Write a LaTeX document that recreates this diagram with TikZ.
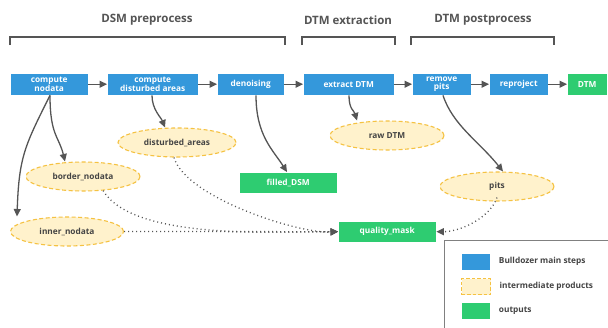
\documentclass[tikz,border=0pt]{standalone}
\usepackage{fontspec}
\setmainfont{Open Sans}
\usetikzlibrary{arrows.meta,shapes.geometric}
\definecolor{stepblue}{HTML}{3498DB}
\definecolor{outgreen}{HTML}{2ECC71}
\definecolor{interfill}{HTML}{FFF2CC}
\definecolor{interdraw}{HTML}{F5C242}
\definecolor{arrowgray}{HTML}{555555}
\definecolor{textgray}{HTML}{444444}
\tikzset{
  stepbox/.style={fill=stepblue, draw=white, line width=0.4pt, text=white, font=\fontsize{8.3}{8.6}\selectfont\bfseries, align=center, inner sep=0pt, anchor=north west},
  outbox/.style={fill=outgreen, draw=white, line width=0.4pt, text=white, font=\fontsize{8.3}{8.6}\selectfont\bfseries, align=center, inner sep=0pt, anchor=north west},
  interell/.style={ellipse, fill=interfill, draw=interdraw, dashed, dash pattern=on 4pt off 2.5pt, line width=1.1pt, text=textgray, font=\fontsize{8.3}{8.6}\selectfont\bfseries, inner sep=0pt},
  flow/.style={draw=arrowgray, line width=1.3pt, -{Triangle[length=7.5pt,width=7pt]}},
  dotflow/.style={draw=arrowgray, line width=1.3pt, dotted, dash pattern=on 1pt off 3pt, -{Triangle[length=7.5pt,width=7pt]}},
  bracket/.style={draw=arrowgray, line width=2.8pt},
  title/.style={text=arrowgray, font=\fontsize{11.5}{12}\selectfont\bfseries},
  legtext/.style={text=textgray, font=\fontsize{8.3}{8.6}\selectfont\bfseries, anchor=west}
}
\begin{document}
\begin{tikzpicture}[x=1pt,y=-1pt]
\useasboundingbox (0,0) rectangle (608,327);
\fill[white] (0,0) rectangle (608,327);
% titles
\node[title] (t1) at (147,20) {DSM preprocess};
\node[title] (t2) at (348,20) {DTM extraction};
\node[title] (t3) at (483,20) {DTM postprocess};
\draw[bracket] (10,45) -- (10,37) -- (285,37) -- (285,45);
\draw[bracket] (302,45) -- (302,37) -- (395,37) -- (395,45);
\draw[bracket] (411,45) -- (411,37) -- (554,37) -- (554,45);
% main steps
\node[stepbox, minimum width=78pt, minimum height=22pt] (cn) at (10,73) {compute\\nodata};
\node[stepbox, minimum width=91pt, minimum height=22pt] (cd) at (107,73) {compute\\disturbed areas};
\node[stepbox, minimum width=67pt, minimum height=22pt] (dn) at (217,73) {denoising};
\node[stepbox, minimum width=91pt, minimum height=22pt] (ed) at (303,73) {extract DTM};
\node[stepbox, minimum width=59pt, minimum height=22pt] (rp) at (412,73) {remove\\pits};
\node[stepbox, minimum width=59pt, minimum height=22pt] (re) at (489,73) {reproject};
\node[outbox, minimum width=40pt, minimum height=22pt] (dtm) at (567,73) {DTM};
\draw[flow] (cn) -- (cd);
\draw[flow] (cd) -- (dn);
\draw[flow] (dn) -- (ed);
\draw[flow] (ed) -- (rp);
\draw[flow] (rp) -- (re);
\draw[flow] (re) -- (dtm);
% intermediate products
\node[interell, minimum width=118pt, minimum height=29pt] (da) at (177,142.5) {disturbed\_areas};
\node[interell, minimum width=114pt, minimum height=29pt] (bn) at (83,176.5) {border\_nodata};
\node[interell, minimum width=113pt, minimum height=29pt] (in) at (67,231.5) {inner\_nodata};
\node[interell, minimum width=114pt, minimum height=29pt] (rd) at (387,135.5) {raw DTM};
\node[interell, minimum width=114pt, minimum height=29pt] (pt) at (497,186.5) {pits};
% outputs
\node[outbox, minimum width=98pt, minimum height=21pt] (fd) at (239,172) {filled\_DSM};
\node[outbox, minimum width=98pt, minimum height=21pt] (qm) at (338,221) {quality\_mask};
% solid arrows down
\draw[flow] ([xshift=40pt]cn.south west) .. controls +(0,40) and +(-6,-25) .. (bn.north -| 65,0);
\draw[flow] ([xshift=40pt]cn.south west) .. controls +(-25,50) and +(2,-60) .. ([xshift=-50pt]in.north);
\draw[flow] ([xshift=45pt]cd.south west) .. controls +(0,14) and +(-4,-10) .. ([xshift=-12pt]da.north);
\draw[flow] ([xshift=39pt]dn.south west) .. controls +(0,40) and +(-14,-22) .. ([xshift=48pt]fd.north west);
\draw[flow] ([xshift=46pt]ed.south west) .. controls +(0,14) and +(-3,-10) .. ([xshift=-30pt]rd.north);
\draw[flow] ([xshift=31pt]rp.south west) .. controls +(10,30) and +(-24,-30) .. ([xshift=6pt]pt.north);
% dotted arrows to quality mask
\draw[dotflow] ([xshift=-3pt]da.south) .. controls +(12,40) and +(-40,2) .. (qm.west);
\draw[dotflow] (bn.-35) .. controls +(30,50) and +(-60,0) .. (qm.west);
\draw[dotflow] (in.east) -- (qm.west);
\draw[dotflow] ([yshift=4pt]pt.south) .. controls +(-8,22) and +(22,0) .. (qm.east);
% legend
\draw[draw=gray, line width=0.9pt] (444,240) rectangle (615,335);
\node[fill=stepblue, draw=white, minimum width=29pt, minimum height=17pt, inner sep=0pt, anchor=north west] (l1) at (461,253) {};
\node[fill=interfill, draw=interdraw, dashed, dash pattern=on 3.5pt off 2pt, line width=1.1pt, minimum width=29pt, minimum height=16pt, inner sep=0pt, anchor=north west] (l2) at (461,278) {};
\node[fill=outgreen, draw=white, minimum width=29pt, minimum height=17pt, inner sep=0pt, anchor=north west] (l3) at (461,302) {};
\node[legtext] (lt1) at ([xshift=5pt]l1.east) {Bulldozer main steps};
\node[legtext] (lt2) at ([xshift=5pt]l2.east) {intermediate products};
\node[legtext] (lt3) at ([xshift=5pt]l3.east) {outputs};
\end{tikzpicture}
\end{document}
